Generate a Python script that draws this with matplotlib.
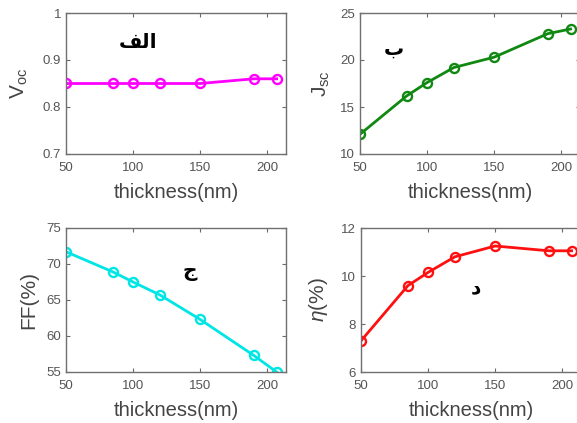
import matplotlib
matplotlib.use("Agg")
import matplotlib.pyplot as plt

plt.rcParams["font.family"] = ["Liberation Sans", "DejaVu Sans"]
plt.rcParams["mathtext.fontset"] = "custom"
plt.rcParams["mathtext.rm"] = "Liberation Sans"
plt.rcParams["mathtext.it"] = "Liberation Sans:italic"

# thickness (nm)
thickness = [50, 85, 100, 120, 150, 190, 207]

voc = [0.85, 0.85, 0.85, 0.85, 0.85, 0.86, 0.86]
jsc = [12.1, 16.2, 17.6, 19.2, 20.3, 22.8, 23.3]
ff = [71.7, 68.9, 67.5, 65.7, 62.3, 57.3, 55.0]
eta = [7.3, 9.6, 10.15, 10.8, 11.25, 11.05, 11.05]

# panel labels; "الف" is written with Arabic presentation forms in visual
# order because matplotlib does no Arabic shaping
panel_tags = ["\ufed2\ufedf\ufe8d", "ب", "ج", "د"]

W, H = 577, 423


def box(left, top, right, bottom):
    return [left / W, (H - bottom) / H, (right - left) / W, (bottom - top) / H]


panels = [
    dict(pos=box(66, 13, 286, 154), y=voc, color="#ff00ff", ylim=(0.7, 1.0),
         yticks=[0.7, 0.8, 0.9, 1.0], yticklabels=["0.7", "0.8", "0.9", "1"],
         ylabel=r"V$_{\mathrm{oc}}$", tag_xy=(104, 0.938), ypad=9),
    dict(pos=box(360, 13, 580, 154), y=jsc, color="#118811", ylim=(10, 25),
         yticks=[10, 15, 20, 25], yticklabels=None,
         ylabel=r"J$_{\mathrm{sc}}$", tag_xy=(75, 21.2), ypad=6),
    dict(pos=box(66, 228, 286, 372), y=ff, color="#00e5e5", ylim=(55, 75),
         yticks=[55, 60, 65, 70, 75], yticklabels=None,
         ylabel="FF(%)", tag_xy=(142, 68.9), ypad=6),
    dict(pos=box(361, 228, 581, 372), y=eta, color="#ff1010", ylim=(6, 12),
         yticks=[6, 8, 10, 12], yticklabels=None,
         ylabel=r"$\eta$(%)", tag_xy=(136, 9.5), ypad=8),
]

fig = plt.figure(figsize=(W / 100, H / 100), dpi=100)

for p, tag in zip(panels, panel_tags):
    ax = fig.add_axes(p["pos"])
    ax.plot(thickness, p["y"], "-o", color=p["color"], lw=2.0, ms=6.5,
            mfc="none", mew=1.7)
    ax.set_xlim(50, 214)
    ax.set_ylim(*p["ylim"])
    ax.set_xticks([50, 100, 150, 200])
    ax.set_yticks(p["yticks"])
    if p["yticklabels"]:
        ax.set_yticklabels(p["yticklabels"])
    ax.tick_params(direction="in", top=True, right=True, length=3,
                   labelsize=9.5, colors="#6a6a6a", labelcolor="#555555")
    ax.tick_params(axis="x", pad=6)
    for s in ax.spines.values():
        s.set_color("#707070")
        s.set_linewidth(1.0)
    ax.set_xlabel("thickness(nm)", fontsize=14.5, color="#444444", labelpad=6)
    ax.set_ylabel(p["ylabel"], fontsize=15, color="#444444", labelpad=p["ypad"])
    ax.text(p["tag_xy"][0], p["tag_xy"][1], tag, fontsize=14.5, fontweight="bold",
            family="DejaVu Sans", ha="center", va="center", color="black")

fig.savefig("out.png", dpi=100)
